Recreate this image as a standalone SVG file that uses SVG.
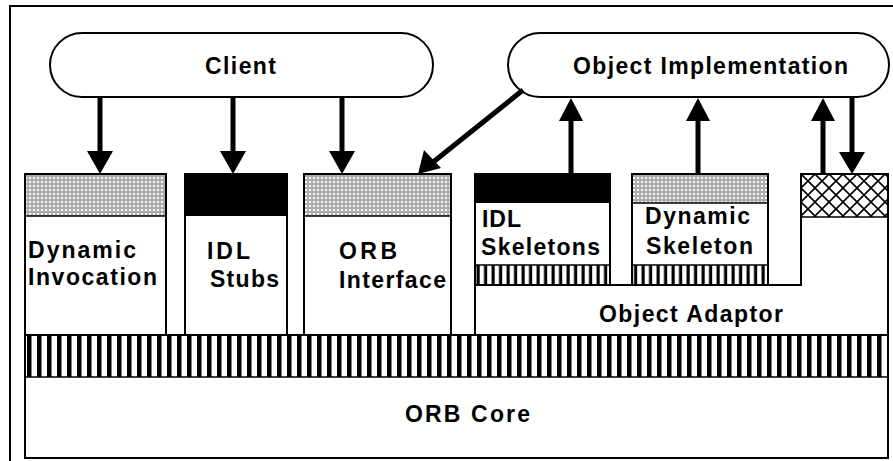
<svg xmlns="http://www.w3.org/2000/svg" width="893" height="461" viewBox="0 0 893 461">
<defs>
<pattern id="dots" patternUnits="userSpaceOnUse" width="4" height="4">
<rect width="4" height="4" fill="#a8a8a8"/>
<circle cx="2" cy="2" r="1.3" fill="#f2f2f2"/>
</pattern>
<pattern id="stripeBig" patternUnits="userSpaceOnUse" x="25" width="10" height="10">
<rect width="10" height="10" fill="#fff"/>
<rect x="2" width="4.5" height="10" fill="#000"/>
</pattern>
<pattern id="stripeSmall" patternUnits="userSpaceOnUse" x="475" width="7.5" height="10">
<rect width="7.5" height="10" fill="#fff"/>
<rect x="1.5" width="3.2" height="10" fill="#000"/>
</pattern>
<pattern id="cross" patternUnits="userSpaceOnUse" x="801" y="174" width="14" height="14">
<rect width="14" height="14" fill="#fff"/>
<path d="M0,0 L14,14 M14,0 L0,14" stroke="#000" stroke-width="1.6"/>
</pattern>
</defs>
<style>
.box{fill:#fff;stroke:#000;stroke-width:2}
.pill{fill:#fff;stroke:#000;stroke-width:2}
.lbl{font-family:"Liberation Sans",Arial,sans-serif;font-weight:bold;font-size:23px;fill:#000}
.shaft{stroke:#000;stroke-width:5;fill:none}
.head{fill:#000}
</style>
<rect width="893" height="461" fill="#fff"/>
<path d="M10,461 V6 H893" fill="none" stroke="#000" stroke-width="2"/>

<g id="orb-core">
<rect class="box" x="25" y="335" width="863" height="123"/>
<rect x="26" y="336" width="861" height="41" fill="url(#stripeBig)"/>
<line x1="25" y1="377" x2="888" y2="377" stroke="#000" stroke-width="1.5"/>
<text class="lbl" x="405" y="422" textLength="125" lengthAdjust="spacing">ORB Core</text>
</g>

<g id="object-adaptor">
<path class="box" d="M475,285 H801 V174 H888 V335 H475 Z"/>
<rect x="802" y="175" width="85" height="42" fill="url(#cross)"/>
<line x1="801" y1="217" x2="888" y2="217" stroke="#000" stroke-width="1.5"/>
<text class="lbl" x="599" y="322" textLength="184" lengthAdjust="spacing">Object Adaptor</text>
</g>

<g id="dynamic-invocation">
<rect class="box" x="25" y="174" width="141" height="161"/>
<rect x="26" y="175" width="139" height="41" fill="url(#dots)"/>
<line x1="25" y1="216" x2="166" y2="216" stroke="#000" stroke-width="1.5"/>
<text class="lbl" x="28" y="258" textLength="108" lengthAdjust="spacing">Dynamic</text>
<text class="lbl" x="28" y="285" textLength="129" lengthAdjust="spacing">Invocation</text>
</g>

<g id="idl-stubs">
<rect class="box" x="185" y="174" width="102" height="161"/>
<rect x="185" y="174" width="102" height="42" fill="#000"/>
<text class="lbl" x="207" y="259" textLength="43" lengthAdjust="spacing">IDL</text>
<text class="lbl" x="210" y="287" textLength="69" lengthAdjust="spacing">Stubs</text>
</g>

<g id="orb-interface">
<rect class="box" x="304" y="174" width="147" height="161"/>
<rect x="305" y="175" width="145" height="41" fill="url(#dots)"/>
<line x1="304" y1="216" x2="451" y2="216" stroke="#000" stroke-width="1.5"/>
<text class="lbl" x="339" y="259" textLength="58" lengthAdjust="spacing">ORB</text>
<text class="lbl" x="339" y="288" textLength="107" lengthAdjust="spacing">Interface</text>
</g>

<g id="idl-skeletons">
<rect class="box" x="475" y="174" width="135" height="111"/>
<rect x="475" y="174" width="135" height="29" fill="#000"/>
<rect x="476" y="265" width="133" height="20" fill="url(#stripeSmall)"/>
<line x1="475" y1="265" x2="610" y2="265" stroke="#000" stroke-width="1.5"/>
<line x1="475" y1="285" x2="610" y2="285" stroke="#000" stroke-width="2"/>
<text class="lbl" x="482" y="227" textLength="39" lengthAdjust="spacing">IDL</text>
<text class="lbl" x="481" y="255" textLength="119" lengthAdjust="spacing">Skeletons</text>
</g>

<g id="dynamic-skeleton">
<rect class="box" x="632" y="174" width="136" height="111"/>
<rect x="633" y="175" width="134" height="28" fill="url(#dots)"/>
<line x1="632" y1="203" x2="768" y2="203" stroke="#000" stroke-width="1.5"/>
<rect x="633" y="265" width="134" height="20" fill="url(#stripeSmall)"/>
<line x1="632" y1="265" x2="768" y2="265" stroke="#000" stroke-width="1.5"/>
<line x1="632" y1="285" x2="768" y2="285" stroke="#000" stroke-width="2"/>
<text class="lbl" x="645" y="224" textLength="105" lengthAdjust="spacing">Dynamic</text>
<text class="lbl" x="646" y="254" textLength="107" lengthAdjust="spacing">Skeleton</text>
</g>

<g id="client">
<rect class="pill" x="50" y="33" width="383" height="64" rx="32" ry="32"/>
<text class="lbl" x="205" y="74" textLength="71" lengthAdjust="spacing">Client</text>
</g>

<g id="object-implementation">
<rect class="pill" x="508" y="33" width="381" height="64" rx="32" ry="32"/>
<text class="lbl" x="573" y="74" textLength="275" lengthAdjust="spacing">Object Implementation</text>
</g>

<g id="connectors">
<line class="shaft" x1="100" y1="98" x2="100" y2="153"/>
<polygon class="head" points="87,151 113,151 100,174"/>
<line class="shaft" x1="233" y1="98" x2="233" y2="153"/>
<polygon class="head" points="220,151 246,151 233,174"/>
<line class="shaft" x1="342" y1="98" x2="342" y2="153"/>
<polygon class="head" points="329,151 355,151 342,174"/>
<line class="shaft" x1="523" y1="90" x2="432" y2="163"/>
<polygon class="head" points="418,174 424,150 441,168"/>
<line class="shaft" x1="571" y1="174" x2="571" y2="118"/>
<polygon class="head" points="559,121 583,121 571,98"/>
<line class="shaft" x1="698" y1="174" x2="698" y2="118"/>
<polygon class="head" points="686,121 710,121 698,98"/>
<line class="shaft" x1="823" y1="174" x2="823" y2="118" stroke-width="8"/>
<polygon class="head" points="811,121 835,121 823,98"/>
<line class="shaft" x1="852" y1="98" x2="852" y2="154"/>
<polygon class="head" points="839,152 865,152 852,174"/>
</g>
</svg>
